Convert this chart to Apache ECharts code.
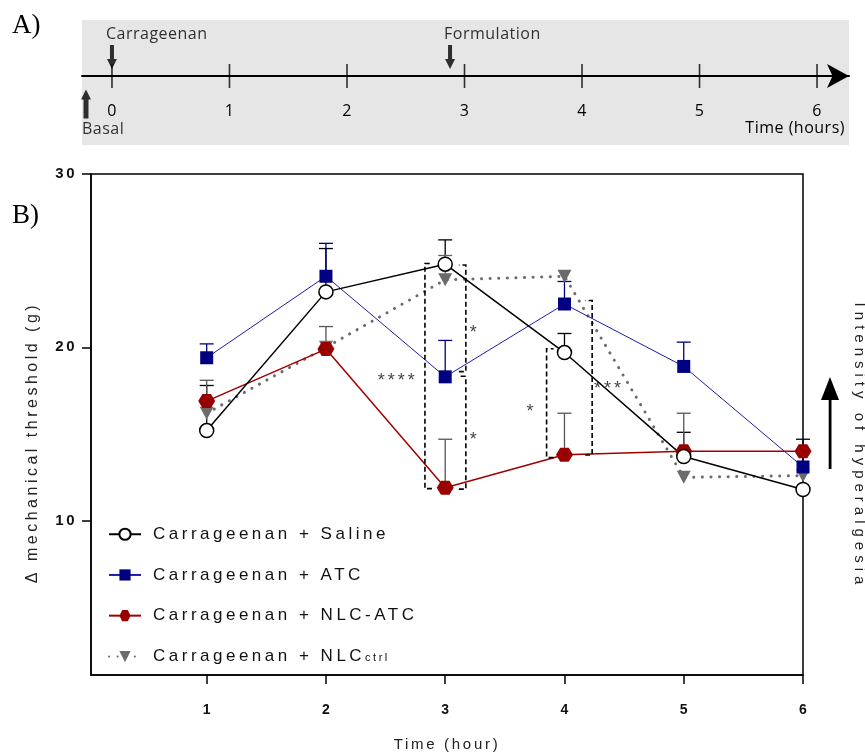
<!DOCTYPE html>
<html>
<head>
<meta charset="utf-8">
<script src="https://cdn.jsdelivr.net/npm/echarts@6/dist/echarts.min.js"></script>
<style>html,body{margin:0;padding:0;background:#fff}#c{width:865px;height:753px}</style>
</head>
<body>
<div id="c"></div>
<script>
// letter spacing helper: a font family token "lsN" means N/10 px letter spacing
(function(){
  var P = CanvasRenderingContext2D.prototype;
  var d = Object.getOwnPropertyDescriptor(P, 'font');
  if (!d || !('letterSpacing' in P)) return;
  Object.defineProperty(P, 'font', {
    configurable: true, enumerable: d.enumerable,
    get: function(){ return d.get.call(this); },
    set: function(v){ d.set.call(this, v); var m = /\bls(\d+)\b/.exec(v); this.letterSpacing = m ? (m[1]/10) + 'px' : '0px'; }
  });
})();

// ---------- Panel A: timeline ----------
const tlTicks = [0, 1, 2, 3, 4, 5, 6];
const tlEventNames = ['Carrageenan', 'Formulation'];
const tlEventTimes = [0, 2.877];
const basalTime = -0.221;

// ---------- Panel B: data ----------
const hours = [1, 2, 3, 4, 5, 6];
const yTicks = [10, 20, 30];
const seriesNames = ['Carrageenan + Saline', 'Carrageenan + ATC', 'Carrageenan + NLC-ATC', 'Carrageenan + NLCctrl'];
const saline    = [15.2, 23.2, 24.8, 19.7, 13.7, 11.8];
const salineSem = [2.6, 2.5, 1.4, 1.1, 1.4, 2.9];
const atc       = [19.4, 24.1, 18.3, 22.5, 18.9, 13.1];
const atcSem    = [0.8, 1.9, 2.1, 1.3, 1.4, 0];
const nlcAtc    = [16.9, 19.9, 11.9, 13.8, 14.0, 14.0];
const nlcAtcSem = [1.2, 1.3, 2.8, 2.4, 2.2, 0];
const nlcCtrl   = [16.2, 20.0, 23.9, 24.1, 12.5, 12.6];
const nlcCtrlSem= [0, 0, 1.4, 0, 0, 0];

// significance brackets: x, y from, y to, tick direction
const brX    = [2.83, 3.173, 3.173, 3.85, 4.232];
const brLow  = [11.85, 18.6, 11.82, 13.64, 13.79];
const brHigh = [24.84, 24.75, 18.33, 19.92, 22.70];
const brDir  = [1, -1, -1, 1, -1];
// significance stars
const starText = ['*', '*', '****', '*', '***'];
const starX    = [3.248, 3.248, 2.602, 3.724, 4.373];
const starY    = [21.09, 14.94, 18.33, 16.57, 17.87];

const SANS = n => "'Liberation Sans', ls" + n;
const TL = "'Open Sans', ls5";

const colors = {
  saline: '#000000', atc: '#000080', nlcAtc: '#990000', ctrl: '#6b6b6b'
};
const hexPath = 'path://M0,5 L3,0 L9,0 L12,5 L9,10 L3,10 Z';
const downArrow = 'path://M3,0 L7,0 L7,14 L10,14 L5,24 L0,14 L3,14 Z';
const upArrow = 'path://M5,0 L10,10 L7.5,10 L7.5,29 L2.5,29 L2.5,10 L0,10 Z';

function errSeries(name, means, sems, color) {
  const data = [];
  hours.forEach((h, i) => { if (sems[i] > 0) data.push([h, means[i], means[i] + sems[i]]); });
  return {
    type: 'custom', name: name, xAxisIndex: 0, yAxisIndex: 0, z: 2,
    encode: { x: 0, y: [1, 2] }, data: data, silent: true,
    renderItem: function (params, api) {
      const p0 = api.coord([api.value(0), api.value(1)]);
      const p1 = api.coord([api.value(0), api.value(2)]);
      const st = { stroke: color, lineWidth: 1.3 };
      return { type: 'group', children: [
        { type: 'line', shape: { x1: p0[0], y1: p0[1], x2: p1[0], y2: p1[1] }, style: st },
        { type: 'line', shape: { x1: p1[0] - 7, y1: p1[1], x2: p1[0] + 7, y2: p1[1] }, style: st }
      ] };
    }
  };
}

function lineSeries(name, values, color, symbol, size, extra) {
  return Object.assign({
    type: 'line', name: name, xAxisIndex: 0, yAxisIndex: 0, z: 3,
    data: hours.map((h, i) => [h, values[i]]),
    symbol: symbol, symbolSize: size, showSymbol: true,
    lineStyle: { color: color, width: 1.5 },
    itemStyle: { color: color },
    animation: false
  }, extra || {});
}

const chart = echarts.init(document.getElementById('c'));
const option = {
  animation: false,
  grid: [
    { left: 91, right: 62, top: 174, bottom: 78, show: true, borderColor: '#000', borderWidth: 1.5, backgroundColor: 'transparent', outerBoundsMode: 'none', containLabel: false },
    { left: 82, right: 16, top: 20, height: 56, show: false, outerBoundsMode: 'none', containLabel: false }
  ],
  xAxis: [
    {
      gridIndex: 0, type: 'value', min: 0.03, max: 6,
      axisLine: { lineStyle: { color: '#000', width: 1.5 } },
      axisTick: { customValues: hours, length: 9, lineStyle: { color: '#000', width: 1.5 } },
      axisLabel: { customValues: hours, margin: 28, color: '#111', fontWeight: 'bold', fontSize: 14, fontFamily: SANS(0) },
      splitLine: { show: false },
      name: 'Time (hour)', nameLocation: 'middle', nameGap: 61,
      nameTextStyle: { fontSize: 15, color: '#222', fontFamily: SANS(27) }
    },
    {
      gridIndex: 1, type: 'value', min: -0.255, max: 6.272, position: 'bottom',
      axisLine: { onZero: false, symbol: ['none', 'arrow'], symbolSize: [18, 22], lineStyle: { color: '#000', width: 2 } },
      axisTick: { show: false },
      axisLabel: { customValues: tlTicks, margin: 27, color: '#000', fontSize: 16, fontFamily: TL },
      splitLine: { show: false }
    }
  ],
  yAxis: [
    {
      gridIndex: 0, type: 'value', min: 1.1, max: 30,
      axisLine: { show: true, lineStyle: { color: '#000', width: 1.5 } },
      axisTick: { show: true, customValues: yTicks, length: 9, lineStyle: { color: '#000', width: 1.5 } },
      axisLabel: { customValues: yTicks, margin: 14, color: '#111', fontWeight: 'bold', fontSize: 15, fontFamily: SANS(25) },
      splitLine: { show: false },
      name: 'Δ mechanical threshold (g)', nameLocation: 'middle', nameGap: 49,
      nameTextStyle: { fontSize: 16, color: '#222', fontFamily: SANS(35), padding: [0, 36, 0, 0] }
    },
    { gridIndex: 1, type: 'value', min: 0, max: 1, show: false }
  ],
  legend: {
    orient: 'vertical', left: 103, top: 519, itemWidth: 32, itemHeight: 14, itemGap: 20.2,
    data: seriesNames, selectedMode: false,
    textStyle: { fontSize: 17, lineHeight: 16, color: '#111', fontFamily: SANS(35), padding: [0, 0, 0, 7],
      rich: { sub: { fontSize: 11, lineHeight: 16, verticalAlign: 'bottom', color: '#111', fontFamily: SANS(25), padding: [5, 0, 0, 0] } } },
    formatter: function (n) { return n === 'Carrageenan + NLCctrl' ? 'Carrageenan + NLC{sub|ctrl}' : n; }
  },
  series: [
    errSeries('e1', saline, salineSem, '#000'),
    errSeries('e2', atc, atcSem, colors.atc),
    errSeries('e3', nlcAtc, nlcAtcSem, '#555'),
    errSeries('e4', nlcCtrl, nlcCtrlSem, '#666'),
    lineSeries(seriesNames[3], nlcCtrl, colors.ctrl, 'path://M0,0 L10,0 L5,9 Z', [14, 13], {
      lineStyle: { color: '#6b6b6b', width: 3, type: [0.1, 8.5], cap: 'round' }
    }),
    lineSeries(seriesNames[2], nlcAtc, colors.nlcAtc, hexPath, [17, 14], { lineStyle: { color: '#a00000', width: 1.5 } }),
    lineSeries(seriesNames[1], atc, colors.atc, 'rect', 13, { lineStyle: { color: '#1c1ca6', width: 1 } }),
    lineSeries(seriesNames[0], saline, colors.saline, 'circle', 14, {
      itemStyle: { color: '#fff', borderColor: '#000', borderWidth: 1.5 },
      lineStyle: { color: '#000', width: 1.5 }
    }),
    {
      type: 'custom', name: 'brackets', xAxisIndex: 0, yAxisIndex: 0, z: 4, silent: true,
      encode: { x: 0, y: [1, 2] },
      data: brX.map((x, i) => [x, brLow[i], brHigh[i], brDir[i]]),
      renderItem: function (params, api) {
        const a = api.coord([api.value(0), api.value(1)]);
        const b = api.coord([api.value(0), api.value(2)]);
        const d = api.value(3) * 7;
        return { type: 'polyline', shape: { points: [[a[0] + d, a[1]], a, b, [b[0] + d, b[1]]] },
          style: { stroke: '#000', fill: null, lineWidth: 1.6, lineDash: [5, 3] } };
      }
    },
    {
      type: 'scatter', name: 'stars', xAxisIndex: 0, yAxisIndex: 0, z: 5, silent: true,
      symbolSize: 1, itemStyle: { color: 'rgba(0,0,0,0)' },
      data: starX.map((x, i) => ({ name: starText[i], value: [x, starY[i]] })),
      label: { show: true, position: 'inside', formatter: '{b}', offset: [0, 5], fontSize: 18, color: '#111', fontFamily: SANS(30) }
    },
    // timeline ticks
    {
      type: 'scatter', xAxisIndex: 1, yAxisIndex: 1, silent: true, clip: false,
      symbol: 'rect', symbolSize: [1.6, 24], itemStyle: { color: '#000' },
      data: tlTicks.map(t => [t, 0])
    },
    // event arrows
    {
      type: 'scatter', xAxisIndex: 1, yAxisIndex: 1, silent: true, clip: false,
      symbol: downArrow, symbolSize: [10, 24], itemStyle: { color: '#000' },
      data: tlEventTimes.map((t, i) => ({ name: tlEventNames[i], value: [t, 0.34] })),
      label: { show: true, position: 'top', distance: 2, align: 'left', offset: [-6, 0], formatter: '{b}', fontSize: 16, color: '#000', fontFamily: TL }
    },
    {
      type: 'scatter', xAxisIndex: 1, yAxisIndex: 1, silent: true, clip: false,
      symbol: upArrow, symbolSize: [10, 29], itemStyle: { color: '#000' },
      data: [{ name: 'Basal', value: [basalTime, -0.5] }],
      label: { show: true, position: 'bottom', distance: 3, align: 'left', offset: [-4, 0], formatter: '{b}', fontSize: 16, color: '#000', fontFamily: TL }
    }
  ],
  graphic: [
    { type: 'rect', z: -10, shape: { x: 82, y: 20, width: 767, height: 125 }, style: { fill: '#e6e6e6' } },
    { type: 'text', left: 12, top: 12, style: { text: 'A)', font: "27px 'Liberation Serif'", fill: '#000' } },
    { type: 'text', left: 12, top: 202, style: { text: 'B)', font: "27px 'Liberation Serif'", fill: '#000' } },
    { type: 'text', right: 20, top: 120, style: { text: 'Time (hours)', font: "16px 'Open Sans', ls5", fill: '#000' } },
    { type: 'polygon', shape: { points: [[821, 400], [839, 400], [830, 377]] }, style: { fill: '#000' } },
    { type: 'rect', shape: { x: 828.7, y: 398, width: 2.8, height: 71 }, style: { fill: '#000' } },
    { type: 'text', x: 859, y: 446, rotation: -Math.PI / 2,
      style: { text: 'Intensity of hyperalgesia', font: "15px 'Liberation Sans', ls50", fill: '#222', align: 'center', verticalAlign: 'middle' } }
  ]
};
chart.setOption(option);
</script>
</body>
</html>
